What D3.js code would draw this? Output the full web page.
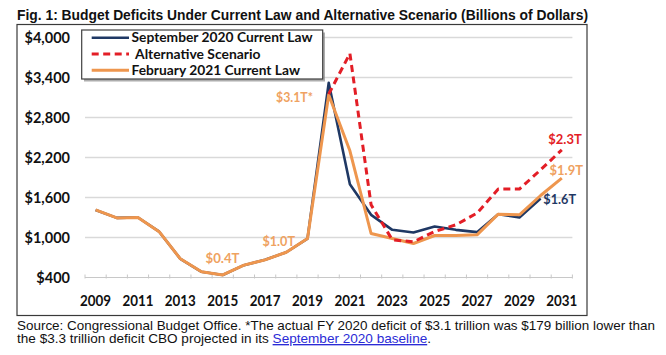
<!DOCTYPE html>
<html>
<head>
<meta charset="utf-8">
<script src="https://cdn.jsdelivr.net/npm/d3@7"></script>
<style>
  html, body { margin: 0; padding: 0; background: #ffffff; }
  svg { display: block; }
</style>
</head>
<body>
<svg id="chart" width="666" height="355"></svg>
<script>
// ---------------- data ----------------
const years = d3.range(2009, 2032);
const yearLabels = [2009, 2011, 2013, 2015, 2017, 2019, 2021, 2023, 2025, 2027, 2029, 2031];
const yTicks = [400, 1000, 1600, 2200, 2800, 3400, 4000];
const seriesNames = ["September 2020 Current Law", "Alternative Scenario", "February 2021 Current Law"];
const sep2020 = [1413, 1294, 1300, 1087, 680, 485, 438, 585, 665, 779, 984, 3320, 1800, 1340, 1115, 1075, 1165, 1115, 1080, 1350, 1300, 1585, null];
const altScenario = [null, null, null, null, null, null, null, null, null, null, null, 3150, 3760, 1490, 965, 935, 1090, 1190, 1366, 1726, 1726, 2015, 2315];
const feb2021 = [1413, 1294, 1300, 1087, 680, 485, 438, 585, 665, 779, 984, 3140, 2300, 1060, 985, 910, 1030, 1030, 1040, 1350, 1340, 1630, 1890];
const pointLabels = [
  { year: 2020, value: 3140, text: "$3.1T*", series: "feb" },
  { year: 2019, value: 984, text: "$1.0T", series: "feb" },
  { year: 2015, value: 438, text: "$0.4T", series: "feb" },
  { year: 2031, value: 2315, text: "$2.3T", series: "alt" },
  { year: 2031, value: 1890, text: "$1.9T", series: "feb" },
  { year: 2030, value: 1585, text: "$1.6T", series: "sep" }
];
const titleText = "Fig. 1: Budget Deficits Under Current Law and Alternative Scenario (Billions of Dollars)";
const sourceLine1 = "Source: Congressional Budget Office. *The actual FY 2020 deficit of $3.1 trillion was $179 billion lower than";
const sourceLine2a = "the $3.3 trillion deficit CBO projected in its ";
const sourceLine2link = "September 2020 baseline";
const sourceLine2b = ".";

// ---------------- styles ----------------
const C = { sep: "#1f3864", alt: "#e31e26", feb: "#ee964e" };
const labelColor = { sep: "#1f3864", alt: "#e31e26", feb: "#efa261" };
const calibri = "Lato, 'Open Sans', sans-serif";
const narrow = "'Liberation Sans Narrow', 'Liberation Sans', Arial, sans-serif";

const svg = d3.select("#chart");

// scales
const x = d3.scalePoint().domain(years).range([85, 572.4]).padding(0.5);
const y = d3.scaleLinear().domain([400, 4000]).range([277.5, 37.5]);

// title
svg.append("text")
  .attr("x", 17).attr("y", 19.5)
  .attr("font-family", narrow).attr("font-weight", "bold").attr("font-size", 14)
  .attr("fill", "#111")
  .attr("textLength", 571).attr("lengthAdjust", "spacingAndGlyphs")
  .text(titleText);

// outer box
svg.append("rect")
  .attr("x", 17).attr("y", 24.5).attr("width", 570).attr("height", 291)
  .attr("fill", "#fff").attr("stroke", "#3a3a3a").attr("stroke-width", 1.2);

// gridlines
svg.append("g").selectAll("line")
  .data(yTicks.filter(d => d > 400))
  .join("line")
  .attr("x1", 85).attr("x2", 572.4)
  .attr("y1", d => y(d)).attr("y2", d => y(d))
  .attr("stroke", "#d9d9d9").attr("stroke-width", 1.5);

// x axis (category axis with ticks between categories)
const xAxisG = svg.append("g");
xAxisG.append("line")
  .attr("x1", 85).attr("x2", 572.4)
  .attr("y1", y(400)).attr("y2", y(400))
  .attr("stroke", "#c8c8c8").attr("stroke-width", 1.2);
const step = x.step();
const boundaries = d3.range(years.length + 1).map(i => x(years[0]) - step / 2 + i * step);
xAxisG.selectAll("line.tick")
  .data(boundaries)
  .join("line").attr("class", "tick")
  .attr("x1", d => d).attr("x2", d => d)
  .attr("y1", y(400) - 3).attr("y2", y(400) + 1)
  .attr("stroke", "#c8c8c8").attr("stroke-width", 1);

xAxisG.selectAll("text")
  .data(yearLabels)
  .join("text")
  .attr("x", d => x(d)).attr("y", 301)
  .attr("dy", "0.35em")
  .attr("text-anchor", "middle")
  .attr("font-family", calibri).attr("font-weight", "bold").attr("font-size", 14.5)
  .attr("fill", "#111")
  .attr("textLength", 31).attr("lengthAdjust", "spacingAndGlyphs")
  .text(d => d);

// y axis labels
const fmt = d3.format(",");
svg.append("g").selectAll("text")
  .data(yTicks)
  .join("text")
  .attr("x", 70).attr("y", d => y(d))
  .attr("dy", "0.35em")
  .attr("text-anchor", "end")
  .attr("font-family", calibri).attr("font-weight", "bold").attr("font-size", 14.5)
  .attr("fill", "#111")
  .text(d => "$" + fmt(d));

// lines
const line = d3.line()
  .defined(d => d[1] != null)
  .x(d => x(d[0])).y(d => y(d[1]));

function drawSeries(values, color, width, dash) {
  svg.append("path")
    .datum(years.map((yr, i) => [yr, values[i]]))
    .attr("d", line)
    .attr("fill", "none")
    .attr("stroke", color)
    .attr("stroke-width", width)
    .attr("stroke-linejoin", "round")
    .attr("stroke-dasharray", dash || null);
}
drawSeries(sep2020, C.sep, 2.6);
drawSeries(feb2021, C.feb, 3);
drawSeries(altScenario, C.alt, 3, "7,4.5");

// point labels
const labelPos = {
  "$3.1T*": { x: 276, y: 96.7, w: 37 },
  "$1.0T": { x: 262.5, y: 240.7, w: 32.5 },
  "$0.4T": { x: 205.5, y: 258.3, w: 34 },
  "$2.3T": { x: 548.3, y: 139, w: 33.4 },
  "$1.9T": { x: 549.5, y: 170.5, w: 33.5 },
  "$1.6T": { x: 543.3, y: 199, w: 32.7 }
};
svg.append("g").selectAll("text")
  .data(pointLabels)
  .join("text")
  .attr("x", d => labelPos[d.text].x)
  .attr("y", d => labelPos[d.text].y)
  .attr("dy", "0.35em")
  .attr("font-family", calibri).attr("font-weight", "bold").attr("font-size", 14)
  .attr("fill", d => labelColor[d.series])
  .attr("textLength", d => labelPos[d.text].w).attr("lengthAdjust", "spacingAndGlyphs")
  .text(d => d.text);

// legend
const legend = svg.append("g");
legend.append("rect")
  .attr("x", 84).attr("y", 32.5).attr("width", 241).attr("height", 49)
  .attr("fill", "#8a8a8a").attr("opacity", 0.7);
legend.append("rect")
  .attr("x", 81.7).attr("y", 30).attr("width", 241).attr("height", 49)
  .attr("fill", "#fff").attr("stroke", "#404040").attr("stroke-width", 1.2);
const legendItems = [
  { name: seriesNames[0], color: C.sep, dash: null, y: 37.7, tx: 131.5, w: 181, sw: 2.6 },
  { name: seriesNames[1], color: C.alt, dash: "7,4.5", y: 54, tx: 135, w: 125.5, sw: 3 },
  { name: seriesNames[2], color: C.feb, dash: null, y: 70.3, tx: 131.5, w: 168.5, sw: 3 }
];
const li = legend.selectAll("g.item").data(legendItems).join("g").attr("class", "item");
li.append("line")
  .attr("x1", 91.7).attr("x2", 129).attr("y1", d => d.y).attr("y2", d => d.y)
  .attr("stroke", d => d.color).attr("stroke-width", d => d.sw)
  .attr("stroke-dasharray", d => d.dash);
li.append("text")
  .attr("x", d => d.tx).attr("y", d => d.y).attr("dy", "0.35em")
  .attr("font-family", calibri).attr("font-weight", "bold").attr("font-size", 13.5)
  .attr("fill", "#111")
  .attr("textLength", d => d.w).attr("lengthAdjust", "spacingAndGlyphs")
  .text(d => d.name);

// source
svg.append("text")
  .attr("x", 17).attr("y", 329.5)
  .attr("font-family", narrow).attr("font-size", 13.5).attr("fill", "#111")
  .attr("textLength", 638).attr("lengthAdjust", "spacingAndGlyphs")
  .text(sourceLine1);
const s2 = svg.append("text")
  .attr("x", 17).attr("y", 343)
  .attr("font-family", narrow).attr("font-size", 13.5).attr("fill", "#111")
  .style("white-space", "pre")
  .attr("textLength", 414).attr("lengthAdjust", "spacingAndGlyphs");
s2.append("tspan").text(sourceLine2a);
s2.append("tspan").attr("fill", "#2b2bd6").attr("text-decoration", "underline").text(sourceLine2link);
s2.append("tspan").text(sourceLine2b);
</script>
</body>
</html>
